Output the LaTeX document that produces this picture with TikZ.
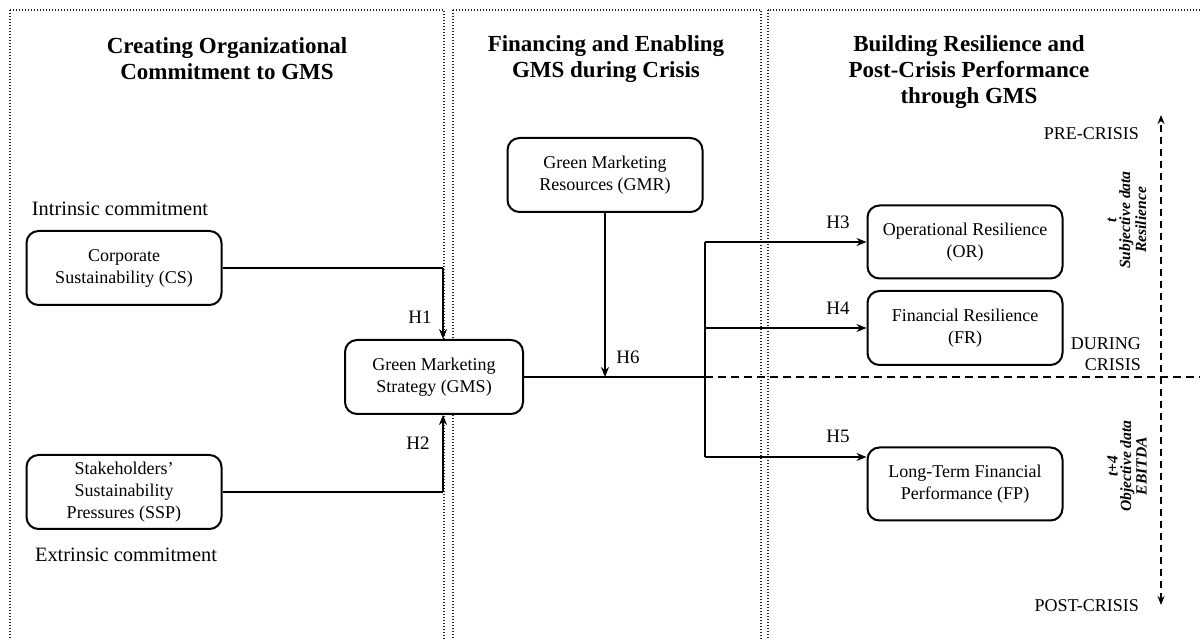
\documentclass[tikz,border=0pt]{standalone}
\usepackage{fontspec}
\setmainfont{Liberation Serif}
\usetikzlibrary{arrows.meta,calc}
\begin{document}
\begin{tikzpicture}[x=0.5pt,y=-0.5pt,
  panel/.style={line width=1pt,dash pattern=on 0.7pt off 0.8pt,draw=black!85},
  box/.style={draw,fill=white,line width=1pt,rounded corners=6pt,minimum width=97.5pt,minimum height=37pt,align=center,font=\fontsize{9}{11}\selectfont,inner sep=0pt},
  ttl/.style={font=\fontsize{11.5}{13}\selectfont\bfseries,align=center},
  lbl/.style={font=\fontsize{10.2}{12}\selectfont},
  hyp/.style={font=\fontsize{9.5}{11}\selectfont},
  phase/.style={font=\fontsize{9}{10.5}\selectfont,align=right},
  rot/.style={rotate=90,font=\fontsize{7.8}{6.8}\selectfont\bfseries\itshape,align=center},
  link/.style={line width=0.8pt,-{Stealth[length=5pt,width=4pt]}},
  tie/.style={line width=0.8pt},
  mainline/.style={line width=1.3pt}]
\useasboundingbox (0,0) rectangle (1200,640);
\clip (0,0) rectangle (1200,640);
\fill[white] (0,0) rectangle (1200,640);
% panels
\draw[panel] (10,10) rectangle (444,700);
\draw[panel] (453,10) rectangle (761,700);
\draw[panel] (768,10) rectangle (1260,700);
% titles
\node[ttl] (t1) at (227,59) {Creating Organizational\\Commitment to GMS};
\node[ttl] (t2) at (606,59) {Financing and Enabling\\GMS during Crisis};
\node[ttl] (t3) at (969,72) {Building Resilience and\\Post-Crisis Performance\\through GMS};
% coordinates
\coordinate (k1) at (443,268);
\coordinate (k2) at (443,492);
\coordinate (br) at (705,377);
\coordinate (b3) at (705,242);
\coordinate (b4) at (705,328);
\coordinate (b5) at (705,457);
\coordinate (dend) at (1200,377);
\coordinate (axt) at (1161,115);
\coordinate (axb) at (1161,605);
% connectors behind boxes
\draw[line width=0.9pt,dash pattern=on 4pt off 2.5pt] (br) -- (dend);
% boxes
\node[box] (CS) at (124,268) {Corporate\\Sustainability (CS)};
\node[box] (SSP) at (124,492) {Stakeholders'\\Sustainability\\Pressures (SSP)};
\node[box,minimum width=89pt] (GMS) at (434,377) {Green Marketing\\Strategy (GMS)};
\node[box] (GMR) at (605,175) {Green Marketing\\Resources (GMR)};
\node[box,minimum height=36.5pt] (OR) at (965,242) {Operational Resilience\\(OR)};
\node[box] (FR) at (965,328) {Financial Resilience\\(FR)};
\node[box,minimum height=36.5pt] (FP) at (965,484) {Long-Term Financial\\Performance (FP)};
% labels
\node[lbl] (intr) at (120,209) {Intrinsic commitment};
\node[lbl] (extr) at (126,555) {Extrinsic commitment};
\node[hyp] (h1) at (420,317) {H1};
\node[hyp] (h2) at (418,443) {H2};
\node[hyp] (h6) at (628,357) {H6};
\node[hyp] (h3) at (838,222) {H3};
\node[hyp] (h4) at (838,308) {H4};
\node[hyp] (h5) at (838,436) {H5};
\node[phase,anchor=east] (pre) at (1146,134) {PRE-CRISIS};
\node[phase,anchor=east] (dur) at (1148,354) {DURING\\CRISIS};
\node[phase,anchor=east] (post) at (1146,606) {POST-CRISIS};
\node[rot] (r1) at (1127,220) {t\\Subjective data\\Resilience};
\node[rot] (r2) at (1127,466) {t+4\\Objective data\\EBITDA};
% connectors
\draw[tie] (CS.east) -- (k1);
\draw[link] (k1) -- (k1 |- GMS.north);
\draw[tie] (SSP.east) -- (k2);
\draw[link] (k2) -- (k2 |- GMS.south);
\draw[mainline] (GMS.east) -- (br);
\draw[link] (GMR.south) -- (GMR.south |- br);
\draw[tie] (b3) -- (b5);
\draw[link] (b3) -- (OR.west);
\draw[link] (b4) -- (FR.west);
\draw[link] (b5) -- (b5 -| FP.west);
\draw[line width=0.8pt,dash pattern=on 3.5pt off 2.5pt,{Stealth[length=4.5pt,width=3.5pt]}-{Stealth[length=4.5pt,width=3.5pt]}] (axb) -- (axt);
\end{tikzpicture}
\end{document}
